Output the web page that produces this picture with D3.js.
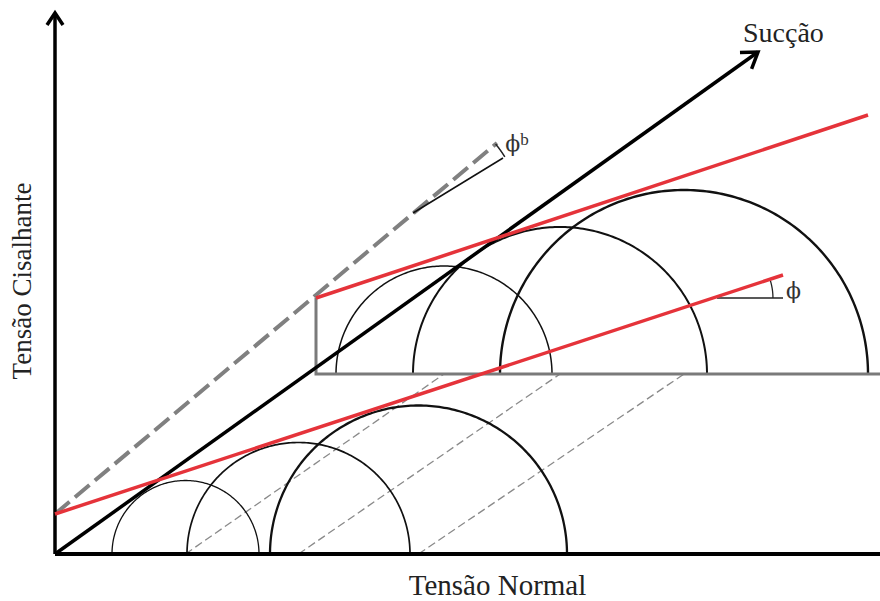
<!DOCTYPE html>
<html><head><meta charset="utf-8">
<script src="https://cdn.jsdelivr.net/npm/d3@7"></script>
<style>html,body{margin:0;padding:0;background:#fff;}svg{display:block;}</style>
</head><body>
<svg id="chart" width="880" height="601"></svg>
<script>
// ---- data (chart units) ----
const lowerCenters = [26.1, 48.7, 72.7];
const lowerRadii = [14.7, 22.3, 29.7];
const upperBase = 36;
const upperCenters = [77.8, 101.0, 125.8];
const upperRadii = [21.6, 29.4, 36.8];
const envelopeLower = [[0, 8], [145.6, 55.8]];
const envelopeUpper = [[52.2, 51.2], [162.6, 87.8]];
const suctionAxis = [[0, 0], [140.6, 100.4]];
const phiBLine = [[0, 8], [88.4, 82.2]];
const phiBRef = [[71.6, 68.2], [89.6, 79.2]];
const phiRef = [[132.4, 51.2], [145.6, 51.2]];
const upperPlaneStart = 52.2;
const labels = {x: "Tensão Normal", y: "Tensão Cisalhante", s: "Sucção"};

// ---- scales ----
const xMax = 165, yMax = 108.4;
const x = d3.scaleLinear().domain([0, xMax]).range([55, 880]);
const y = d3.scaleLinear().domain([0, yMax]).range([554, 12]);
const svg = d3.select("#chart");
const line = d3.line().x(d => x(d[0])).y(d => y(d[1]));

function semi(c, r, base) {
  const pts = d3.range(0, 181).map(i => {
    const t = Math.PI * i / 180;
    return [c + r * Math.cos(t), base + r * Math.sin(t)];
  });
  return line(pts);
}
function arcPts(v, r, a0, a1) {
  return d3.range(0, 31).map(i => {
    const t = a0 + (a1 - a0) * i / 30;
    return [v[0] + r * Math.cos(t), v[1] + r * Math.sin(t)];
  });
}
function chevron(p0, p1, len, half) {
  const dx = p1[0] - p0[0], dy = p1[1] - p0[1], L = Math.hypot(dx, dy);
  const ux = dx / L, uy = dy / L;
  const a = [p1[0] - ux * len - uy * half, p1[1] - uy * len + ux * half];
  const b = [p1[0] - ux * len + uy * half, p1[1] - uy * len - ux * half];
  return line([a, p1, b]);
}
function intersect(a, b) {
  const [p1, p2] = a, [p3, p4] = b;
  const d = (p1[0]-p2[0])*(p3[1]-p4[1]) - (p1[1]-p2[1])*(p3[0]-p4[0]);
  const t = ((p1[0]-p3[0])*(p3[1]-p4[1]) - (p1[1]-p3[1])*(p3[0]-p4[0])) / d;
  return [p1[0] + t*(p2[0]-p1[0]), p1[1] + t*(p2[1]-p1[1])];
}

// projection dashed lines
lowerCenters.forEach((c, i) => {
  svg.append("path").attr("d", line([[c, 0], [upperCenters[i], upperBase]]))
    .attr("fill", "none").attr("stroke", "#8a8a8a").attr("stroke-width", 1.3)
    .attr("stroke-dasharray", "8,4");
});

// lower circles
const lw = [1.3, 1.7, 2.3];
lowerCenters.forEach((c, i) => {
  svg.append("path").attr("d", semi(c, lowerRadii[i], 0))
    .attr("fill", "none").attr("stroke", "#111").attr("stroke-width", lw[i]);
});
// upper circles
const uw = [1.5, 2.0, 2.4];
upperCenters.forEach((c, i) => {
  svg.append("path").attr("d", semi(c, upperRadii[i], upperBase))
    .attr("fill", "none").attr("stroke", "#111").attr("stroke-width", uw[i]);
});

// upper plane gray lines
svg.append("path").attr("d", line([[upperPlaneStart, envelopeUpper[0][1]], [upperPlaneStart, upperBase], [xMax, upperBase]]))
  .attr("fill", "none").attr("stroke", "#7a7a7a").attr("stroke-width", 3);

// phi_b envelope dashed
svg.append("path").attr("d", line(phiBLine))
  .attr("fill", "none").attr("stroke", "#808080").attr("stroke-width", 4)
  .attr("stroke-dasharray", "19,7");
svg.append("path").attr("d", line(phiBRef))
  .attr("fill", "none").attr("stroke", "#111").attr("stroke-width", 1.5);
// phi_b arc
const vb = intersect(phiBLine, phiBRef);
const angB1 = Math.atan2(phiBLine[1][1]-phiBLine[0][1], phiBLine[1][0]-phiBLine[0][0]);
const angB0 = Math.atan2(phiBRef[1][1]-phiBRef[0][1], phiBRef[1][0]-phiBRef[0][0]);
svg.append("path").attr("d", line(arcPts(vb, 21, angB0, angB1)))
  .attr("fill", "none").attr("stroke", "#222").attr("stroke-width", 1.5);

// axes
svg.append("path").attr("d", line([[0, 0], [xMax, 0]]))
  .attr("fill", "none").attr("stroke", "#000").attr("stroke-width", 4);
svg.append("path").attr("d", line([[0, 0], [0, yMax - 0.2]]))
  .attr("fill", "none").attr("stroke", "#000").attr("stroke-width", 3.5);
svg.append("path").attr("d", chevron([0, 0], [0, yMax - 0.2], 2.4, 1.6))
  .attr("fill", "none").attr("stroke", "#000").attr("stroke-width", 3.5)
  .attr("stroke-linejoin", "miter");

// suction axis
svg.append("path").attr("d", line(suctionAxis))
  .attr("fill", "none").attr("stroke", "#000").attr("stroke-width", 3.5);
svg.append("path").attr("d", chevron(suctionAxis[0], suctionAxis[1], 3, 2))
  .attr("fill", "none").attr("stroke", "#000").attr("stroke-width", 3.5);

// phi reference
svg.append("path").attr("d", line(phiRef))
  .attr("fill", "none").attr("stroke", "#222").attr("stroke-width", 1.5);
const vp = intersect(envelopeLower, phiRef);
const angP = Math.atan2(envelopeLower[1][1]-envelopeLower[0][1], envelopeLower[1][0]-envelopeLower[0][0]);
svg.append("path").attr("d", line(arcPts(vp, 12, 0, angP)))
  .attr("fill", "none").attr("stroke", "#222").attr("stroke-width", 1.3);

// red envelopes
[envelopeLower, envelopeUpper].forEach(e => {
  svg.append("path").attr("d", line(e))
    .attr("fill", "none").attr("stroke", "#e5333a").attr("stroke-width", 3.5);
});

// labels
const serif = "'Liberation Serif', 'Times New Roman', serif";
const greek = "'DejaVu Serif', serif";
svg.append("text").attr("x", (x(0) + x(xMax)) / 2 + 30).attr("y", 595)
  .attr("text-anchor", "middle").attr("font-family", serif).attr("font-size", 29)
  .attr("fill", "#222").text(labels.x);
svg.append("text").attr("transform", `translate(31, 281) rotate(-90)`)
  .attr("text-anchor", "middle").attr("font-family", serif).attr("font-size", 27)
  .attr("fill", "#222").text(labels.y);
svg.append("text").attr("x", x(suctionAxis[1][0]) - 15).attr("y", 42)
  .attr("font-family", serif).attr("font-size", 28)
  .attr("fill", "#222").text(labels.s);
const pb = svg.append("text").attr("x", x(vb[0] + 18.0)).attr("y", 151)
  .attr("font-family", greek).attr("font-size", 22).attr("fill", "#333");
pb.append("tspan").text("ϕ");
pb.append("tspan").attr("font-family", serif).attr("font-size", 17).attr("dy", -6).text("b");
svg.append("text").attr("x", x(phiRef[1][0]) + 3).attr("y", 298)
  .attr("font-family", greek).attr("font-size", 22).attr("fill", "#333").text("ϕ");
</script>
</body></html>
